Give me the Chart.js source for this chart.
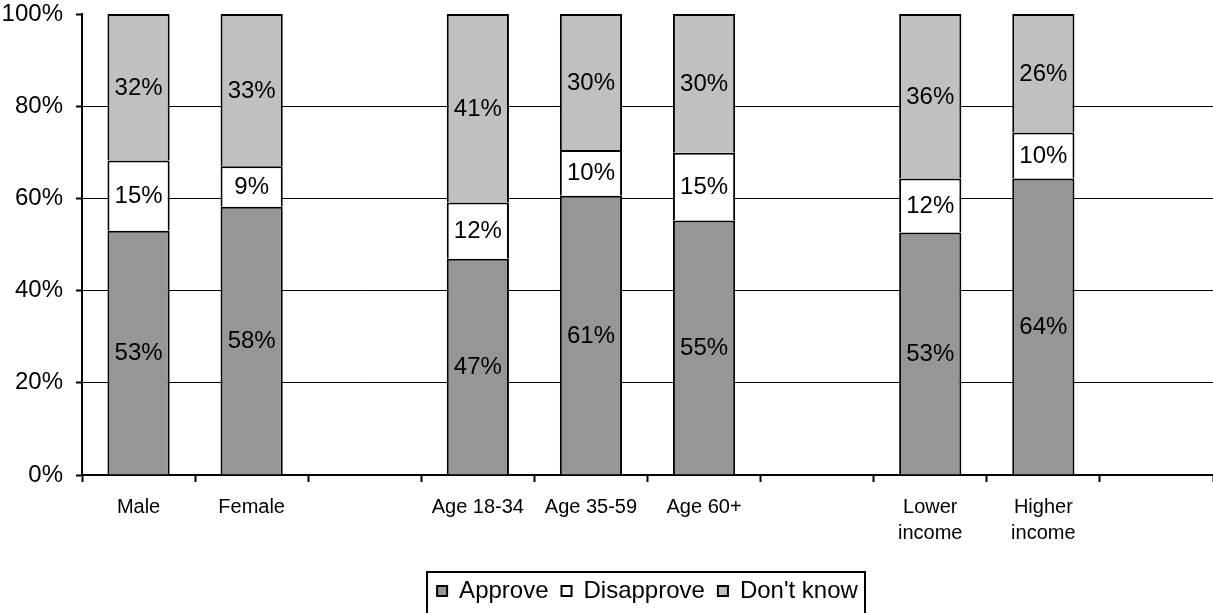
<!DOCTYPE html>
<html>
<head>
<meta charset="utf-8">
<script src="https://cdn.jsdelivr.net/npm/chart.js@4"></script>
<style>
  body { margin: 0; background: #fff; }
  #wrap { width: 1213px; height: 613px; }
</style>
</head>
<body>
<div id="wrap"><canvas id="c"></canvas></div>
<script>
// categories (blank ones are the gaps between groups)
const categories = [['Male'], ['Female'], '', ['Age 18-34'], ['Age 35-59'], ['Age 60+'], '', ['Lower', 'income'], ['Higher', 'income'], ''];
const approve    = [53.0, 58.2, null, 46.9, 60.6, 55.2, null, 52.6, 64.3, null];
const disapprove = [15.2,  8.8, null, 12.2,  9.9, 14.7, null, 11.7, 10.0, null];
const dontKnow   = [31.8, 33.0, null, 40.9, 29.5, 30.1, null, 35.7, 25.7, null];
const yTicks = [0, 20, 40, 60, 80, 100];

Chart.defaults.font.family = '"Liberation Sans", Arial, sans-serif';
Chart.defaults.color = '#000';

// value labels in the middle of every segment
const segmentLabels = {
    id: 'segmentLabels',
    afterDatasetsDraw(chart) {
        const ctx = chart.ctx;
        ctx.save();
        ctx.font = '24px "Liberation Sans", Arial, sans-serif';
        ctx.fillStyle = '#000';
        ctx.textAlign = 'center';
        ctx.textBaseline = 'middle';
        chart.data.datasets.forEach(function (ds, i) {
            chart.getDatasetMeta(i).data.forEach(function (el, j) {
                const v = ds.data[j];
                if (v == null) return;
                ctx.fillText(Math.round(v) + '%', el.x, (el.y + el.base) / 2 + 1);
            });
        });
        ctx.restore();
    }
};

// frame around the legend
const legendFrame = {
    id: 'legendFrame',
    afterDraw(chart) {
        const boxes = chart.legend.legendHitBoxes;
        if (!boxes || !boxes.length) return;
        let l = Infinity, r = -Infinity, t = Infinity;
        boxes.forEach(function (b) {
            l = Math.min(l, b.left);
            r = Math.max(r, b.left + b.width);
            t = Math.min(t, b.top);
        });
        const ctx = chart.ctx;
        ctx.save();
        ctx.strokeStyle = '#000';
        ctx.lineWidth = 2;
        ctx.strokeRect(Math.round(l) - 10, Math.round(t) - 7, Math.round(r - l) + 17, 60);
        ctx.restore();
    }
};

new Chart(document.getElementById('c'), {
    type: 'bar',
    data: {
        labels: categories,
        datasets: [
            { label: 'Approve', data: approve, backgroundColor: '#969696' },
            { label: 'Disapprove', data: disapprove, backgroundColor: '#ffffff' },
            { label: "Don't know", data: dontKnow, backgroundColor: '#c0c0c0' }
        ].map(function (d) {
            return Object.assign(d, {
                borderColor: '#000', borderWidth: 2, borderSkipped: 'start', inflateAmount: 0,
                categoryPercentage: 0.55, barPercentage: 1
            });
        })
    },
    options: {
        responsive: true,
        maintainAspectRatio: false,
        animation: false,
        layout: { padding: { top: 14, right: 0, left: 0, bottom: 0 } },
        plugins: {
            tooltip: { enabled: false },
            legend: {
                position: 'bottom',
                fullSize: false,
                labels: {
                    boxWidth: 10, boxHeight: 10, padding: 13,
                    font: { size: 24 }, color: '#000'
                }
            }
        },
        scales: {
            x: {
                stacked: true,
                border: { color: '#000', width: 2 },
                grid: { offset: true, drawOnChartArea: false, drawTicks: true, tickLength: 7, tickWidth: 2, tickColor: '#000' },
                ticks: { font: { size: 20, lineHeight: 1.3 }, padding: 12, maxRotation: 0, autoSkip: false },
                afterFit(s) { s.height = 91; s.paddingLeft = 0; s.paddingRight = 0; }
            },
            y: {
                stacked: true,
                min: 0, max: 100,
                afterBuildTicks(s) { s.ticks = yTicks.map(function (v) { return { value: v }; }); },
                border: { color: '#000', width: 2 },
                grid: {
                    color: function (c) { return c.tick && c.tick.value === 100 ? 'rgba(0,0,0,0)' : '#000'; },
                    lineWidth: 1, tickLength: 6, tickWidth: 2, tickColor: '#000'
                },
                ticks: { font: { size: 24 }, padding: 13, callback: function (v) { return v + '%'; } },
                afterFit(s) { s.width = 82; s.paddingTop = 0; s.paddingBottom = 0; }
            }
        }
    },
    plugins: [segmentLabels, legendFrame]
});
</script>
</body>
</html>
